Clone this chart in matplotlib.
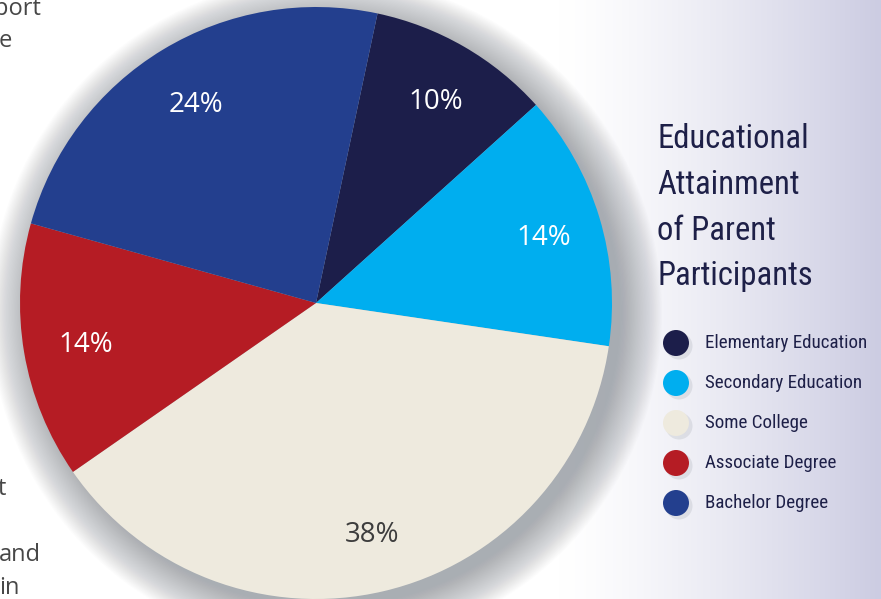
import numpy as np
import matplotlib
matplotlib.use('Agg')
import matplotlib.pyplot as plt
from matplotlib.patches import Circle

# Educational attainment of parent participants (%)
categorias = ['Elementary Education', 'Secondary Education', 'Some College',
              'Associate Degree', 'Bachelor Degree']
valores = [10, 14, 38, 14, 24]
cores = ['#1c1e4a', '#00aeef', '#eeeade', '#b51c24', '#233f8e']
cor_texto_pct = ['white', 'white', '#3d3d3d', 'white', 'white']
titulo = 'Educational\nAttainment\nof Parent\nParticipants'

W, H = 881, 599
fig = plt.figure(figsize=(W / 100, H / 100), dpi=100)
ax = fig.add_axes([0, 0, 1, 1])
ax.set_xlim(0, W)
ax.set_ylim(0, H)
ax.set_aspect('equal')
ax.axis('off')

# fundo: branco -> lilas na direita
grad = np.ones((2, 300, 3))
t = np.clip((np.linspace(0, W, 300) - 560) / (W - 560), 0, 1) ** 1.3
inicio = np.array([1.0, 1.0, 1.0])
fim = np.array([0xcc, 0xcc, 0xe2]) / 255
for i in range(3):
    grad[:, :, i] = inicio[i] + (fim[i] - inicio[i]) * t
ax.imshow(grad, extent=[0, W, 0, H], aspect='auto', zorder=0)

# texto cortado da pagina ao lado
fonte_pag = dict(family=['Open Sans', 'DejaVu Sans'], fontsize=17, color='#474747', zorder=1)
ax.text(41, H - 15, 'port', ha='right', va='baseline', **fonte_pag)
ax.text(-1, H - 47, 'e', ha='left', va='baseline', **fonte_pag)
ax.text(-2, H - 495, 't', ha='left', va='baseline', **fonte_pag)
ax.text(-1, H - 561, 'and', ha='left', va='baseline', **fonte_pag)
ax.text(-1, H - 594, 'in', ha='left', va='baseline', **fonte_pag)

cx, cy, raio = 316, H - 303, 296

# sombra suave do grafico
for k in range(36):
    r = raio + 40 - k * 1.2
    ax.add_patch(Circle((cx + 10, cy - 10), r, color='#80878f', alpha=0.022, lw=0, zorder=2))

fatias, textos, pcts = ax.pie(valores, colors=cores, startangle=78, counterclock=False,
                              center=(cx, cy), radius=raio, autopct='%.0f%%',
                              pctdistance=0.795, frame=True,
                              wedgeprops=dict(linewidth=0, zorder=3),
                              textprops=dict(family=['Open Sans', 'DejaVu Sans'], fontsize=20))
for p, c in zip(pcts, cor_texto_pct):
    p.set_color(c)
    p.set_zorder(4)
    x, y = p.get_position()
    p.set_position((x + 2, y - 3))
ax.set_xlim(0, W)
ax.set_ylim(0, H)
ax.axis('off')

fonte_cond = ['Roboto Condensed', 'Roboto', 'DejaVu Sans']
ax.text(657, H - 123, titulo, ha='left', va='top', fontsize=23.5, color='#1e2048',
        family=fonte_cond, linespacing=1.55, zorder=5)

# legenda
for i, (nome, cor) in enumerate(zip(categorias, cores)):
    y = H - 343 - 40 * i
    ax.add_patch(Circle((679, y - 3), 13.5, color='#9098a0', alpha=0.2, lw=0, zorder=4))
    ax.add_patch(Circle((676, y), 13, color=cor, lw=0, zorder=5))
    ax.text(705, y, nome, ha='left', va='center', fontsize=13.7, color='#1e2048',
            family=fonte_cond, zorder=5)

fig.savefig('out.png', dpi=100)
